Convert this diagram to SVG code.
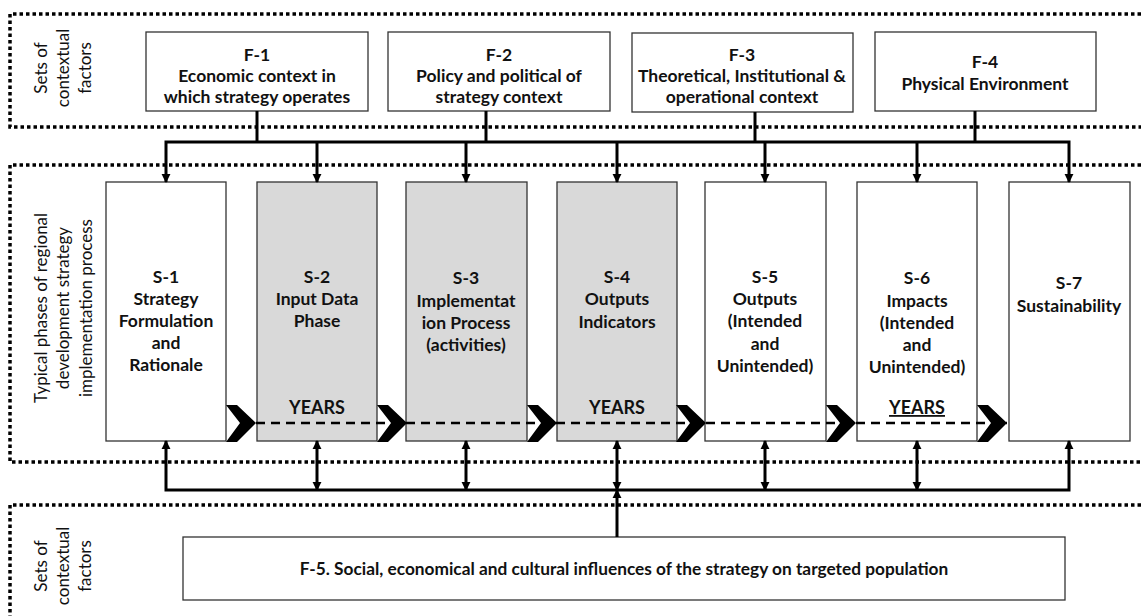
<svg xmlns="http://www.w3.org/2000/svg" xmlns:xlink="http://www.w3.org/1999/xlink" width="1141" height="616" viewBox="0 0 1141 616">
<style>
.dot{fill:none;stroke:#000;stroke-width:3.5;stroke-dasharray:3.5 3}
.box{fill:#fff;stroke:#333;stroke-width:1.3}
.gray{fill:#d9d9d9;stroke:#333;stroke-width:1.3}
.t{font-family:Lato,"Liberation Sans",sans-serif;font-weight:bold;font-size:17.5px;fill:#111;text-anchor:middle}
.f5{font-size:17.3px}
.y{font-family:Lato,"Liberation Sans",sans-serif;font-weight:bold;font-size:18px;fill:#111;text-anchor:middle}
.r{font-family:Lato,"Liberation Sans",sans-serif;font-size:17px;fill:#111;text-anchor:middle}
.c{fill:none;stroke:#000;stroke-width:3}
.dash{fill:none;stroke:#000;stroke-width:2.5;stroke-dasharray:9 6}
</style>
<defs>
<marker id="ah" viewBox="0 0 10 10" refX="9" refY="5" markerWidth="9" markerHeight="11" markerUnits="userSpaceOnUse" orient="auto-start-reverse">
<path d="M0,0 L10,5 L0,10 z" fill="#000"/>
</marker>
<polygon id="chev" points="0,-18 11,-18 30,0 11,19 0,19 14,0" fill="#000"/>
</defs>

<g id="regions">
<path class="dot" d="M1141,14 H10 V127 H1141"/>
<path class="dot" d="M1141,165 H10 V462 H1141"/>
<path class="dot" d="M1141,505 H10 V616"/>
</g>

<g id="label-top">
<text class="r" transform="translate(47,68) rotate(-90)">Sets of</text>
<text class="r" transform="translate(69,68) rotate(-90)">contextual</text>
<text class="r" transform="translate(91,68) rotate(-90)">factors</text>
</g>
<g id="label-mid">
<text class="r" transform="translate(47,308) rotate(-90)">Typical phases of regional</text>
<text class="r" transform="translate(69,308) rotate(-90)">development  strategy</text>
<text class="r" transform="translate(92,308) rotate(-90)">implementation process</text>
</g>
<g id="label-bot">
<text class="r" transform="translate(47,566) rotate(-90)">Sets of</text>
<text class="r" transform="translate(69,566) rotate(-90)">contextual</text>
<text class="r" transform="translate(91,566) rotate(-90)">factors</text>
</g>

<g id="F-1"><rect class="box" x="146" y="32" width="222" height="79"/>
<text class="t" x="257" y="61">F-1</text><text class="t" x="257" y="82">Economic context in</text><text class="t" x="257" y="103">which strategy operates</text></g>
<g id="F-2"><rect class="box" x="388" y="32" width="222" height="79"/>
<text class="t" x="499" y="61">F-2</text><text class="t" x="499" y="82">Policy and political of</text><text class="t" x="499" y="103">strategy context</text></g>
<g id="F-3"><rect class="box" x="632" y="33" width="221" height="79"/>
<text class="t" x="742" y="61">F-3</text><text class="t" x="742" y="82">Theoretical, Institutional &amp;</text><text class="t" x="742" y="103">operational context</text></g>
<g id="F-4"><rect class="box" x="875" y="32" width="221" height="79"/>
<text class="t" x="985" y="68">F-4</text><text class="t" x="985" y="90">Physical Environment</text></g>

<g id="S-1"><rect class="box" x="106" y="182" width="120" height="259"/>
<text class="t" x="166" y="283">S-1</text><text class="t" x="166" y="305">Strategy</text><text class="t" x="166" y="327">Formulation</text><text class="t" x="166" y="349">and</text><text class="t" x="166" y="371">Rationale</text></g>
<g id="S-2"><rect class="gray" x="257" y="182" width="120" height="259"/>
<text class="t" x="317" y="283">S-2</text><text class="t" x="317" y="305">Input Data</text><text class="t" x="317" y="327">Phase</text>
<text class="y" x="317" y="414">YEARS</text></g>
<g id="S-3"><rect class="gray" x="406" y="182" width="121" height="259"/>
<text class="t" x="466" y="284">S-3</text><text class="t" x="466" y="307">Implementat</text><text class="t" x="466" y="329">ion Process</text><text class="t" x="466" y="351">(activities)</text></g>
<g id="S-4"><rect class="gray" x="557" y="182" width="120" height="259"/>
<text class="t" x="617" y="283">S-4</text><text class="t" x="617" y="305">Outputs</text><text class="t" x="617" y="328">Indicators</text>
<text class="y" x="617" y="414">YEARS</text></g>
<g id="S-5"><rect class="box" x="705" y="182" width="121" height="259"/>
<text class="t" x="765" y="283">S-5</text><text class="t" x="765" y="305">Outputs</text><text class="t" x="765" y="327">(Intended</text><text class="t" x="765" y="350">and</text><text class="t" x="765" y="372">Unintended)</text></g>
<g id="S-6"><rect class="box" x="857" y="182" width="120" height="259"/>
<text class="t" x="917" y="284">S-6</text><text class="t" x="917" y="307">Impacts</text><text class="t" x="917" y="329">(Intended</text><text class="t" x="917" y="351">and</text><text class="t" x="917" y="373">Unintended)</text>
<text class="y" x="917" y="414" text-decoration="underline">YEARS</text></g>
<g id="S-7"><rect class="box" x="1009" y="182" width="121" height="259"/>
<text class="t" x="1069" y="289">S-7</text><text class="t" x="1069" y="312">Sustainability</text></g>

<g id="F-5"><rect class="box" x="183" y="537" width="882" height="63"/>
<text class="t f5" x="624" y="575">F-5. Social, economical and cultural influences of the strategy on targeted population</text></g>

<g id="connectors">
<use xlink:href="#chev" x="226" y="423"/>
<use xlink:href="#chev" x="377" y="423"/>
<use xlink:href="#chev" x="527" y="423"/>
<use xlink:href="#chev" x="676" y="423"/>
<use xlink:href="#chev" x="826" y="423"/>
<use xlink:href="#chev" x="977" y="423"/>
<line class="dash" x1="256" y1="423" x2="1007" y2="423"/>

<line class="c" x1="257" y1="111" x2="257" y2="142"/>
<line class="c" x1="486" y1="111" x2="486" y2="142"/>
<line class="c" x1="755" y1="112" x2="755" y2="142"/>
<line class="c" x1="975" y1="111" x2="975" y2="142"/>
<path class="c" d="M166,182 V142 H1069 V182" marker-start="url(#ah)" marker-end="url(#ah)"/>
<line class="c" x1="317" y1="142" x2="317" y2="182" marker-end="url(#ah)"/>
<line class="c" x1="466" y1="142" x2="466" y2="182" marker-end="url(#ah)"/>
<line class="c" x1="617" y1="142" x2="617" y2="182" marker-end="url(#ah)"/>
<line class="c" x1="765" y1="142" x2="765" y2="182" marker-end="url(#ah)"/>
<line class="c" x1="917" y1="142" x2="917" y2="182" marker-end="url(#ah)"/>

<path class="c" d="M166,441 V490 H1069 V441" marker-start="url(#ah)" marker-end="url(#ah)"/>
<line class="c" x1="317" y1="441" x2="317" y2="490" marker-start="url(#ah)" marker-end="url(#ah)"/>
<line class="c" x1="466" y1="441" x2="466" y2="490" marker-start="url(#ah)" marker-end="url(#ah)"/>
<line class="c" x1="617" y1="441" x2="617" y2="490" marker-start="url(#ah)" marker-end="url(#ah)"/>
<line class="c" x1="765" y1="441" x2="765" y2="490" marker-start="url(#ah)" marker-end="url(#ah)"/>
<line class="c" x1="917" y1="441" x2="917" y2="490" marker-start="url(#ah)" marker-end="url(#ah)"/>
<line class="c" x1="617" y1="537" x2="617" y2="490" marker-end="url(#ah)"/>
</g>
</svg>
